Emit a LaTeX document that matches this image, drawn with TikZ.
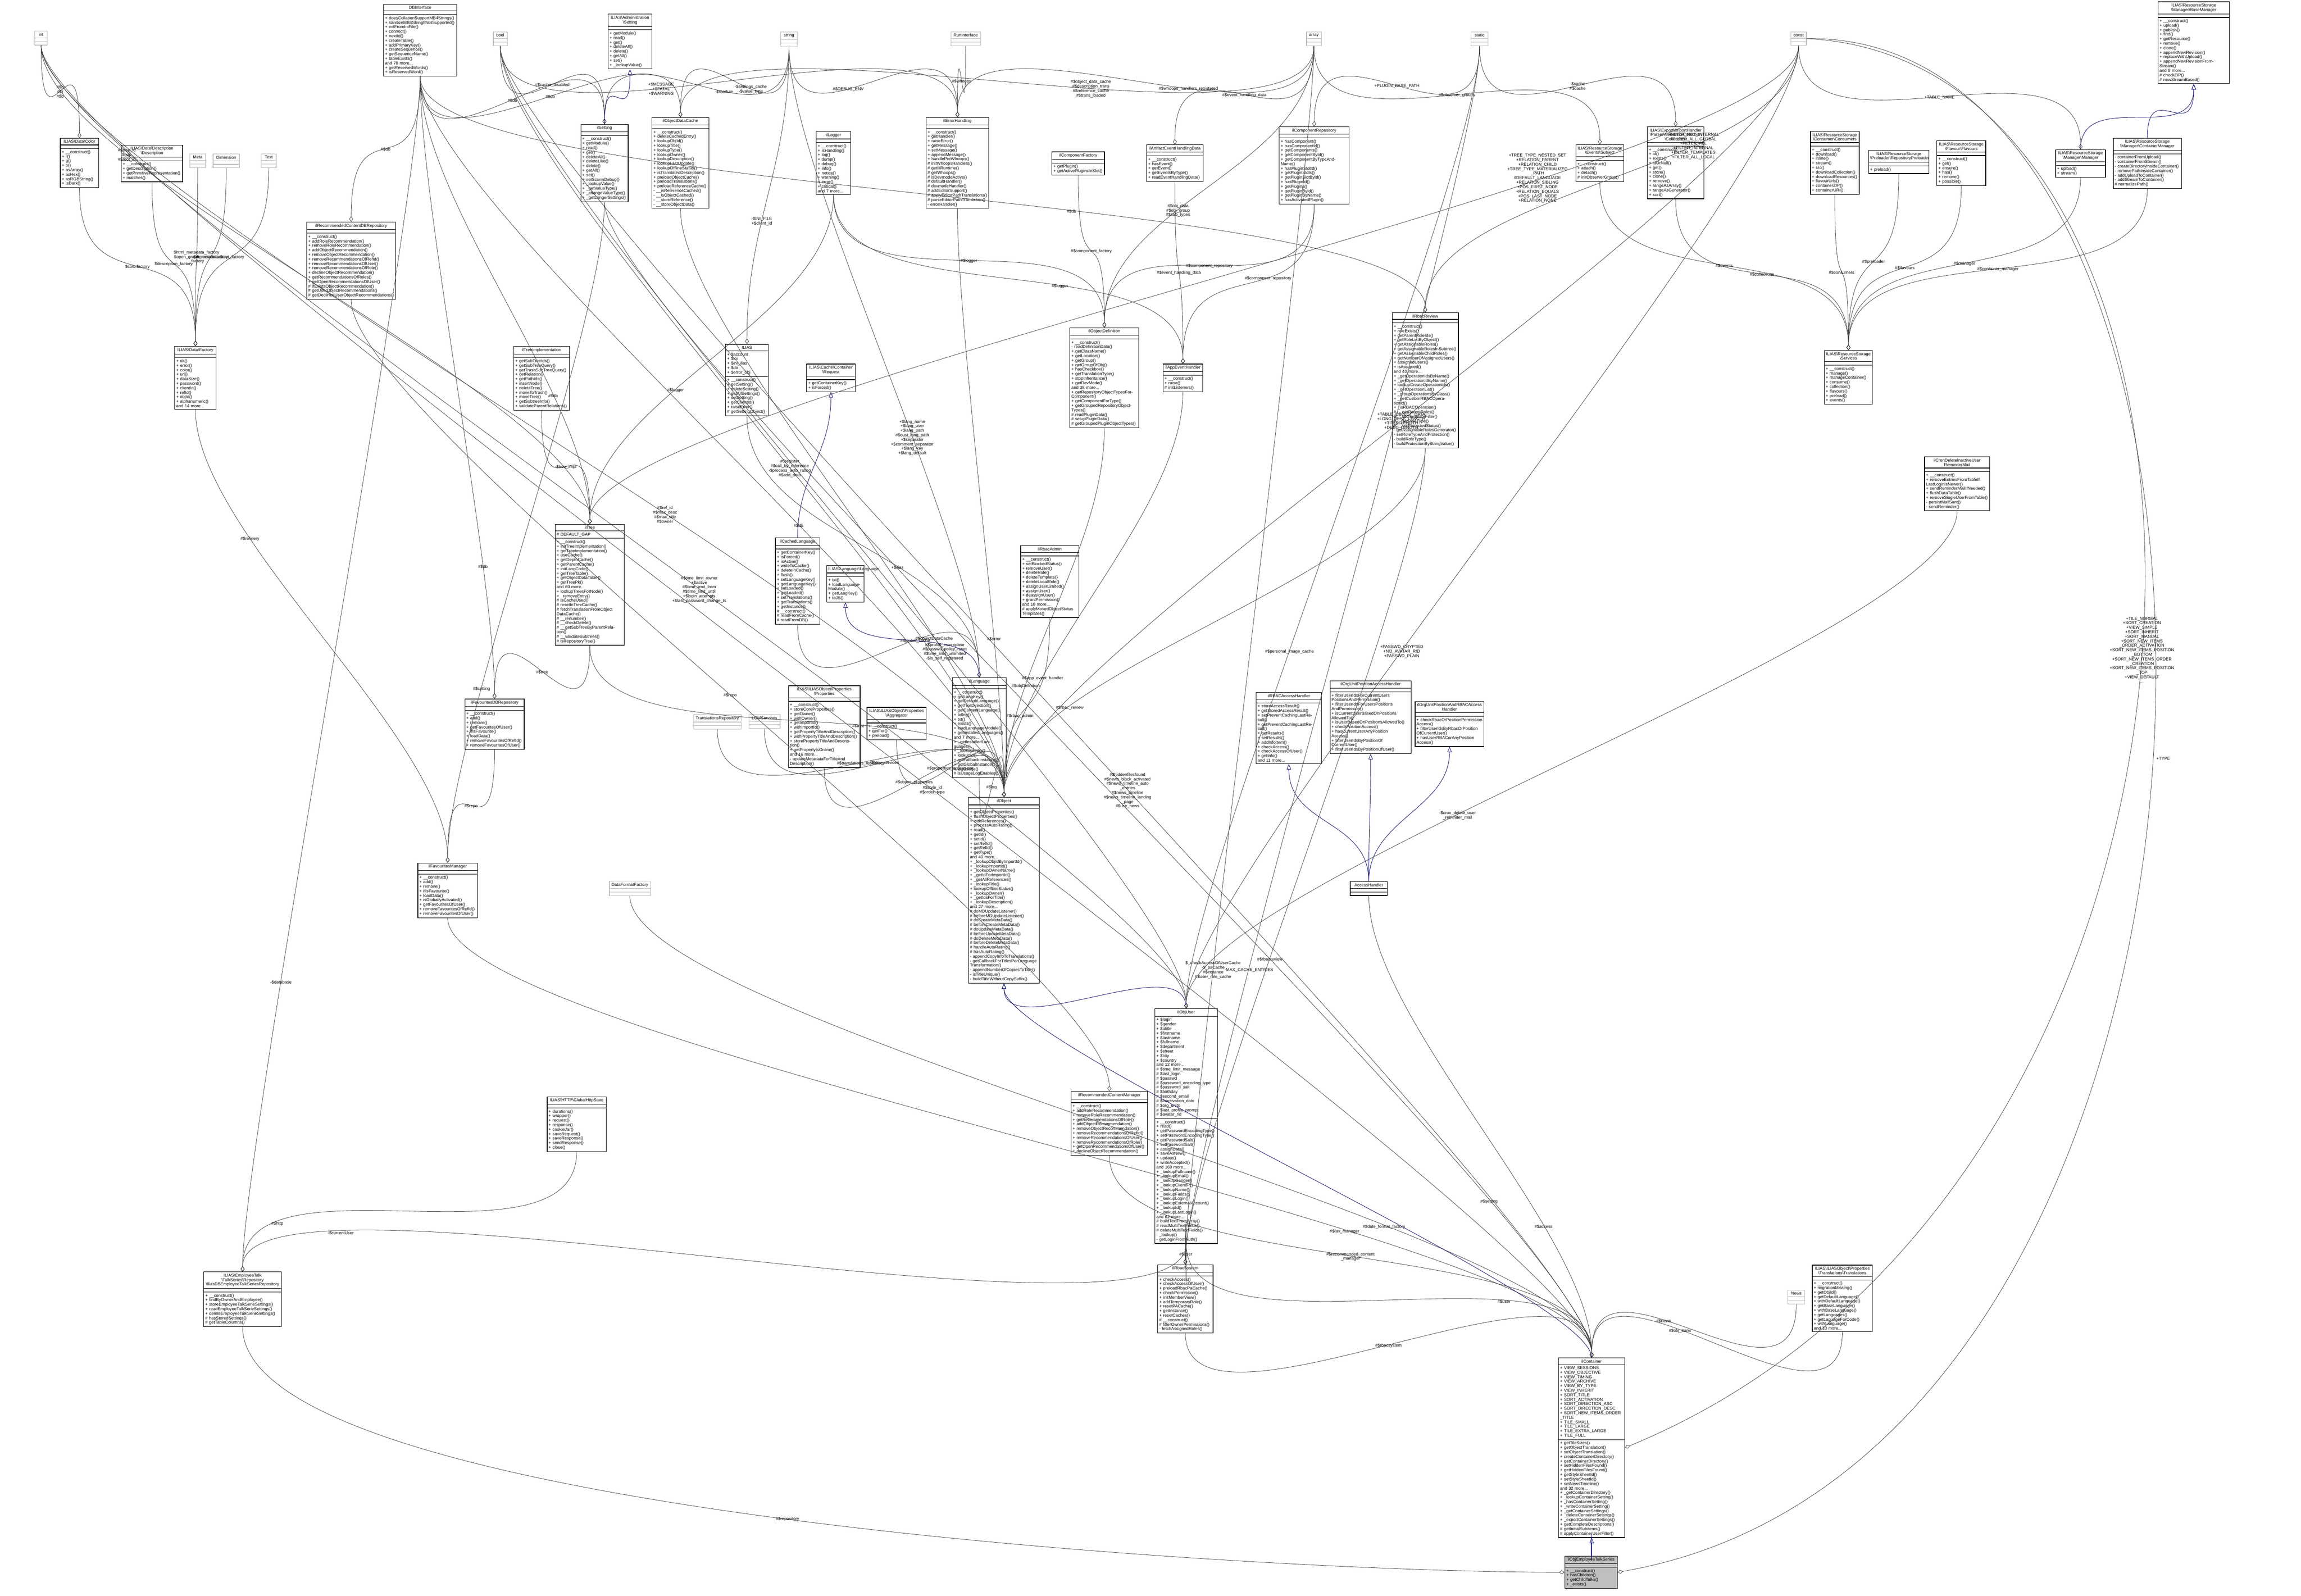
\documentclass[tikz,border=0pt]{standalone}
\usepackage{fontspec}
\setmainfont{Liberation Sans}
\usetikzlibrary{shapes.multipart,arrows.meta}

\definecolor{edgegray}{HTML}{404040}
\definecolor{inhblue}{HTML}{191970}
\definecolor{hlgray}{HTML}{BFBFBF}
\definecolor{primgray}{HTML}{BBBBBB}

\newcommand{\umlfont}{\fontsize{3.9}{4.15}\selectfont}
\newcommand{\bsl}{\textbackslash{}}

\tikzset{
  classbox/.style={draw=black, fill=white, rectangle split, rectangle split parts=3,
    rectangle split empty part height=4pt, anchor=north west, inner sep=1.4pt,
    font=\umlfont, align=left, line width=0.5pt},
  primbox/.style={classbox, draw=primgray},
  member/.style={draw=edgegray, line width=0.35pt, -{Diamond[open,length=5pt,width=3.5pt]}},
  inherit/.style={draw=inhblue, line width=0.4pt, -{Triangle[open,length=5pt,width=4pt]}},
  lbl/.style={font=\umlfont, align=center}
}

% class box: name, x, y, width (px of the reference), title, attributes, methods
\newcommand{\classnode}[8][]{%
  \pgfmathsetmacro{\tw}{#5*0.01-0.1}%
  \node[classbox, text width=\tw cm, #1] (#2) at (#3*0.01,-#4*0.01)
    {\parbox{\tw cm}{\centering #6}\nodepart{two}#7\nodepart{three}#8};}
% empty type box
\newcommand{\primnode}[5]{%
  \pgfmathsetmacro{\tw}{#4*0.01-0.1}%
  \node[primbox, text width=\tw cm] (#1) at (#2*0.01,-#3*0.01)
    {\parbox{\tw cm}{\centering #5}\nodepart{two}\nodepart{three}};}
% member link: [label pos] source, owner, label
\newcommand{\memb}[4][0.5]{%
  \draw[member] (#2.south) .. controls +(0,-4) and +(0,4) .. node[lbl, pos=#1]{#4} (#3.north);}
% inheritance: parent, child (triangle at the parent)
\newcommand{\inh}[2]{%
  \draw[inherit] (#2.north) .. controls +(0,2) and +(0,-2) .. (#1.south);}

\begin{document}
\begin{tikzpicture}
  \useasboundingbox[fill=white] (0,0) rectangle (74.35,-51.56);

  % types
  \primnode{int}{112}{100}{40}{int}
  \primnode{bool}{1594}{102}{45}{bool}
  \primnode{string}{2523}{102}{54}{string}
  \primnode{runif}{3074}{102}{95}{RunInterface}
  \primnode{array}{4223}{102}{48}{array}
  \primnode{static}{4755}{102}{55}{static}
  \primnode{const}{5789}{102}{50}{const}
  \primnode{meta}{613}{497}{51}{Meta}
  \primnode{dimension}{688}{497}{85}{Dimension}
  \primnode{text}{844}{497}{48}{Text}
  \primnode{trrepo}{2242}{2309}{153}{TranslationsRepository}
  \primnode{lom}{2420}{2309}{101}{LOMServices}
  \primnode{dff}{1969}{2848}{133}{DataFormatFactory}
  \primnode{news}{5779}{4170}{55}{News}

  % top row
  \classnode{dbi}{1239}{13}{237}{DBInterface}{}{+ doesCollationSupportMB4Strings()\\+ sanitizeMB4StringIfNotSupported()\\+ initFromIniFile()\\+ connect()\\+ nextId()\\+ createTable()\\+ addPrimaryKey()\\+ createSequence()\\+ getSequenceName()\\+ tableExists()\\and 78 more...\\+ getReservedWords()\\+ isReservedWord()}
  \classnode{admsetting}{1965}{45}{142}{ILIAS\bsl Administration\\\bsl Setting}{}{+ getModule()\\+ read()\\+ get()\\+ deleteAll()\\+ delete()\\+ getAll()\\+ set()\\+ \_lookupValue()}
  \classnode{basemanager}{6976}{5}{231}{ILIAS\bsl ResourceStorage\\\bsl Manager\bsl BaseManager}{}{+ \_\_construct()\\+ upload()\\+ publish()\\+ find()\\+ getResource()\\+ remove()\\+ clone()\\+ appendNewRevision()\\+ replaceWithUpload()\\+ appendNewRevisionFromStream()\\and 8 more...\\\# checkZIP()\\\# newStreamBased()}
  \classnode{color}{194}{446}{124}{ILIAS\bsl Data\bsl Color}{}{+ \_\_construct()\\+ r()\\+ g()\\+ b()\\+ asArray()\\+ asHex()\\+ asRGBString()\\+ isDark()}
  \classnode{datadesc}{391}{468}{199}{ILIAS\bsl Data\bsl Description\\\bsl Description}{}{+ \_\_construct()\\+ getDescription()\\+ getPrimitiveRepresentation()\\+ matches()}
  \classnode{ilsetting}{1877}{401}{153}{ilSetting}{}{+ \_\_construct()\\+ getModule()\\+ read()\\+ get()\\+ deleteAll()\\+ deleteLike()\\+ delete()\\+ getAll()\\+ set()\\+ setScormDebug()\\+ \_lookupValue()\\+ \_getValueType()\\+ \_changeValueType()\\+ \_getLongerSettings()}
  \classnode{objcache}{2107}{379}{184}{ilObjectDataCache}{}{+ \_\_construct()\\+ deleteCachedEntry()\\+ lookupObjId()\\+ lookupTitle()\\+ lookupType()\\+ lookupOwner()\\+ lookupDescription()\\+ lookupLastUpdate()\\+ lookupOfflineStatus()\\+ isTranslatedDescription()\\+ preloadObjectCache()\\+ preloadTranslations()\\+ preloadReferenceCache()\\- \_\_isReferenceCached()\\- \_\_isObjectCached()\\- \_\_storeReference()\\- \_\_storeObjectData()}
  \classnode{logger}{2638}{424}{112}{ilLogger}{}{+ \_\_construct()\\+ isHandling()\\+ log()\\+ dump()\\+ debug()\\+ info()\\+ notice()\\+ warning()\\+ error()\\+ critical()\\and 7 more...}
  \classnode{errhandling}{2993}{379}{203}{ilErrorHandling}{}{+ \_\_construct()\\+ getHandler()\\+ raiseError()\\+ getMessage()\\+ setMessage()\\+ appendMessage()\\+ handlePreWhoops()\\\# initWhoopsHandlers()\\\# getIliRuntime()\\\# getWhoops()\\\# isDevmodeActive()\\\# defaultHandler()\\\# devmodeHandler()\\\# addEditorSupport()\\\# applyEditorPathTranslations()\\\# parseEditorPathTranslation()\\- errorHandler()}
  \classnode{compfactory}{3400}{490}{170}{ilComponentFactory}{}{+ getPlugin()\\+ getActivePluginsInSlot()}
  \classnode{artevent}{3706}{467}{183}{ilArtifactEventHandlingData}{}{+ \_\_construct()\\+ hasEvent()\\+ getEvent()\\+ getEventsByType()\\+ readEventHandlingData()}
  \classnode{comprepo}{4135}{409}{226}{ilComponentRepository}{}{+ hasComponent()\\+ hasComponentId()\\+ getComponents()\\+ getComponentById()\\+ getComponentByTypeAndName()\\+ hasPluginSlotId()\\+ getPluginSlots()\\+ getPluginSlotById()\\+ hasPluginId()\\+ getPlugins()\\+ getPluginById()\\+ getPluginByName()\\+ hasActivatedPlugin()}
  \classnode{evsubject}{5094}{467}{155}{ILIAS\bsl ResourceStorage\\\bsl Events\bsl Subject}{}{+ \_\_construct()\\+ attach()\\+ detach()\\\# initObserverGroup()}
  \classnode{collection}{5325}{409}{183}{ILIAS\bsl Export\bsl ImportHandler\\\bsl Parser\bsl NodeInfo\bsl Collection\\\bsl Collections}{}{+ \_\_construct()\\+ id()\\+ exists()\\+ idOrNull()\\+ get()\\+ store()\\+ clone()\\+ remove()\\+ rangeAsArray()\\+ rangeAsGenerator()\\+ sort()}
  \classnode{consumers}{5852}{424}{158}{ILIAS\bsl ResourceStorage\\\bsl Consumer\bsl Consumers}{}{+ \_\_construct()\\+ download()\\+ inline()\\+ stream()\\+ src()\\+ downloadCollection()\\+ downloadResources()\\+ flavourUrls()\\+ containerZIP()\\+ containerURI()}
  \classnode{preloader}{6040}{485}{196}{ILIAS\bsl ResourceStorage\\\bsl Preloader\bsl RepositoryPreloader}{}{+ preload()}
  \classnode{flavours}{6261}{454}{158}{ILIAS\bsl ResourceStorage\\\bsl Flavour\bsl Flavours}{}{+ \_\_construct()\\+ get()\\+ ensure()\\+ has()\\+ remove()\\+ possible()}
  \classnode{manager}{6645}{483}{161}{ILIAS\bsl ResourceStorage\\\bsl Manager\bsl Manager}{}{+ upload()\\+ stream()}
  \classnode{contmanager}{6831}{446}{221}{ILIAS\bsl ResourceStorage\\\bsl Manager\bsl ContainerManager}{}{- containerFromUpload()\\- containerFromStream()\\- createDirectoryInsideContainer()\\- removePathInsideContainer()\\- addUploadToContainer()\\- addStreamToContainer()\\\# normalizePath()}

  % second row
  \classnode{recdbrepo}{991}{717}{287}{ilRecommendedContentDBRepository}{}{+ \_\_construct()\\+ addRoleRecommendation()\\+ removeRoleRecommendation()\\+ addObjectRecommendation()\\+ removeObjectRecommendation()\\+ removeRecommendationsOfRefId()\\+ removeRecommendationsOfUser()\\+ removeRecommendationsOfRole()\\+ declineObjectRecommendation()\\+ getRecommendationsOfRoles()\\+ getOpenRecommendationsOfUser()\\\# ifExistsObjectRecommendation()\\\# getUserObjectRecommendations()\\\# getDeclinedUserObjectRecommendations()}
  \classnode{datafactory}{564}{1119}{134}{ILIAS\bsl Data\bsl Factory}{}{+ ok()\\+ error()\\+ color()\\+ uri()\\+ dataSize()\\+ password()\\+ clientId()\\+ refId()\\+ objId()\\+ alphanumeric()\\and 14 more...}
  \classnode{treeimpl}{1660}{1119}{180}{ilTreeImplementation}{}{+ getSubTreeIds()\\+ getSubTreeQuery()\\+ getTrashSubTreeQuery()\\+ getRelation()\\+ getPathIds()\\+ insertNode()\\+ deleteTree()\\+ moveToTrash()\\+ moveTree()\\+ getSubtreeInfo()\\+ validateParentRelations()}
  \classnode{ilias}{2345}{1112}{138}{ILIAS}{+ \$account\\+ \$ini\\+ \$ini\_ilias\\+ \$db\\+ \$error\_obj}{+ \_\_construct()\\+ getSetting()\\+ deleteSetting()\\+ getAllSettings()\\+ setSetting()\\+ getClientId()\\+ raiseError()\\\# getSettingObject()}
  \classnode{cachereq}{2607}{1176}{157}{ILIAS\bsl Cache\bsl Container\\\bsl Request}{}{+ getContainerKey()\\+ isForced()}
  \classnode{objdef}{3458}{1059}{223}{ilObjectDefinition}{}{+ \_\_construct()\\- readDefinitionData()\\+ getClassName()\\+ getLocation()\\+ getGroup()\\+ getGroupOfObj()\\+ hasCheckbox()\\+ getTranslationType()\\+ stopInheritance()\\+ getDevMode()\\and 38 more...\\+ getRepositoryObjectTypesForComponent()\\+ getComponentForType()\\+ getGroupedRepositoryObjectTypes()\\\# readPluginData()\\\# setupPluginData()\\\# getGroupedPluginObjectTypes()}
  \classnode{appevent}{3759}{1176}{129}{ilAppEventHandler}{}{+ \_\_construct()\\+ raise()\\\# initListeners()}
  \classnode{rbacreview}{4500}{1010}{214}{ilRbacReview}{}{+ \_\_construct()\\+ roleExists()\\+ getParentRoleIds()\\+ getRoleListByObject()\\+ getAssignableRoles()\\+ getAssignableRolesInSubtree()\\+ getAssignableChildRoles()\\+ getNumberOfAssignedUsers()\\+ assignedUsers()\\+ isAssigned()\\and 43 more...\\+ \_getOperationIdsByName()\\+ \_getOperationIdByName()\\+ lookupCreateOperationIds()\\+ \_getOperationList()\\+ \_groupOperationsByClass()\\+ \_getCustomRBACOperationId()\\+ \_isRBACOperation()\\\# \_\_getParentRoles()\\\# \_\_setTemplateFilter()\\\# \_\_setRoleType()\\\# \_\_setProtectedStatus()\\- getAssignableRolesGenerator()\\- setRoleTypeAndProtection()\\- buildRoleType()\\- buildProtectionByStringValue()}
  \classnode{services}{5897}{1132}{156}{ILIAS\bsl ResourceStorage\\\bsl Services}{}{+ \_\_construct()\\+ manage()\\+ manageContainer()\\+ consume()\\+ collection()\\+ flavours()\\+ preload()\\+ events()}
  \classnode{cronmail}{6221}{1476}{211}{ilCronDeleteInactiveUser\\ReminderMail}{}{+ \_\_construct()\\+ removeEntriesFromTableIf\\LastLoginIsNewer()\\+ sendReminderMailIfNeeded()\\+ flushDataTable()\\+ removeSingleUserFromTable()\\- persistMailSent()\\- sendReminder()}

  % middle
  \classnode{tree}{1794}{1694}{224}{ilTree}{\# DEFAULT\_GAP}{+ \_\_construct()\\+ initTreeImplementation()\\+ getTreeImplementation()\\+ useCache()\\+ getDepthCache()\\+ getParentCache()\\+ initLangCode()\\+ getTreeTable()\\+ getObjectDataTable()\\+ getTreePk()\\and 60 more...\\+ lookupTreesForNode()\\+ \_removeEntry()\\\# isCacheUsed()\\\# resetInTreeCache()\\\# fetchTranslationFromObject\\DataCache()\\\# \_\_renumber()\\\# \_\_checkDelete()\\\# \_\_getSubTreeByParentRelation()\\\# \_\_validateSubtrees()\\\# isRepositoryTree()}
  \classnode{cachedlang}{2506}{1738}{144}{ilCachedLanguage}{}{+ getContainerKey()\\+ isForced()\\+ isActive()\\+ writeToCache()\\+ deleteInCache()\\+ flush()\\+ setLanguageKey()\\+ getLanguageKey()\\+ setLoaded()\\+ getLoaded()\\+ setTranslations()\\+ getTranslations()\\+ getInstance()\\\# \_\_construct()\\\# readFromCache()\\\# readFromDB()}
  \classnode{langlang}{2672}{1827}{121}{ILIAS\bsl Language\bsl Language}{}{+ txt()\\+ loadLanguageModule()\\+ getLangKey()\\+ toJS()}
  \classnode{rbacadmin}{3299}{1763}{188}{ilRbacAdmin}{}{+ \_\_construct()\\+ setBlockedStatus()\\+ removeUser()\\+ deleteRole()\\+ deleteTemplate()\\+ deleteLocalRole()\\+ assignUserLimited()\\+ assignUser()\\+ deassignUser()\\+ grantPermission()\\and 18 more...\\\# applyMovedObjectStatus\\Templates()}
  \classnode{lang}{3078}{2190}{174}{ilLanguage}{}{+ \_\_construct()\\+ getLangKey()\\+ getDefaultLanguage()\\+ getTextDirection()\\+ getContentLanguage()\\+ txtlng()\\+ txt()\\+ exists()\\+ loadLanguageModule()\\+ getInstalledLanguages()\\and 7 more...\\+ \_getInstalledLanguages()\\+ \_lookupEntry()\\+ lookupId()\\+ getFallbackInstance()\\+ getGlobalInstance()\\\# logUsage()\\\# isUsageLogEnabled()}
  \classnode{favdbrepo}{1502}{2259}{192}{ilFavouritesDBRepository}{}{+ \_\_construct()\\+ add()\\+ remove()\\+ getFavouritesOfUser()\\+ ifIsFavourite()\\+ loadData()\\+ removeFavouritesOfRefId()\\+ removeFavouritesOfUser()}
  \classnode{props}{2548}{2216}{232}{ILIAS\bsl ILIASObject\bsl Properties\\\bsl Properties}{}{+ \_\_construct()\\+ storeCoreProperties()\\+ getOwner()\\+ withOwner()\\+ getImportId()\\+ withImportId()\\+ getPropertyTitleAndDescription()\\+ withPropertyTitleAndDescription()\\+ storePropertyTitleAndDescription()\\+ getPropertyIsOnline()\\and 16 more...\\- updateMetadataForTitleAnd\\Description()}
  \classnode{aggregator}{2802}{2286}{192}{ILIAS\bsl ILIASObject\bsl Properties\\\bsl Aggregator}{}{+ \_\_construct()\\+ getFor()\\+ preload()}
  \classnode{rbacaccess}{4060}{2238}{212}{ilRBACAccessHandler}{}{+ storeAccessResult()\\+ getStoredAccessResult()\\+ setPreventCachingLastResult()\\+ getPreventCachingLastResult()\\+ getResults()\\+ setResults()\\+ addInfoItem()\\+ checkAccess()\\+ checkAccessOfUser()\\+ getInfo()\\and 11 more...}
  \classnode{orgpos}{4299}{2200}{263}{ilOrgUnitPositionAccessHandler}{}{+ filterUserIdsForCurrentUsers\\PositionsAndPermission()\\+ filterUserIdsForUsersPositions\\AndPermission()\\+ isCurrentUserBasedOnPositions\\AllowedTo()\\+ isUserBasedOnPositionsAllowedTo()\\+ checkPositionAccess()\\+ hasCurrentUserAnyPosition\\Access()\\+ filterUserIdsByPositionOf\\CurrentUser()\\+ filterUserIdsByPositionOfUser()}
  \classnode{orgposrbac}{4574}{2267}{223}{ilOrgUnitPositionAndRBACAccess\\Handler}{}{+ checkRbacOrPositionPermission\\Access()\\+ filterUserIdsByRbacOrPosition\\OfCurrentUser()\\+ hasUserRBACorAnyPosition\\Access()}
  \classnode{obj}{3130}{2577}{230}{ilObject}{}{+ getObjectProperties()\\+ flushObjectProperties()\\+ withReferences()\\+ processAutoRating()\\+ read()\\+ getId()\\+ setId()\\+ setRefId()\\+ getRefId()\\+ getType()\\and 40 more...\\+ \_lookupObjIdByImportId()\\+ \_lookupImportId()\\+ \_lookupOwnerName()\\+ \_getIdForImportId()\\+ \_getAllReferences()\\+ \_lookupTitle()\\+ lookupOfflineStatus()\\+ \_lookupOwner()\\+ \_getIdsForTitle()\\+ \_lookupDescription()\\and 27 more...\\\# doMDUpdateListener()\\\# beforeMDUpdateListener()\\\# doCreateMetaData()\\\# beforeCreateMetaData()\\\# doUpdateMetaData()\\\# beforeUpdateMetaData()\\\# doDeleteMetaData()\\\# beforeDeleteMetaData()\\\# handleAutoRating()\\\# hasAutoRating()\\- appendCopyInfoToTranslations()\\- getCallbackForTitlesPerLanguage\\Transformation()\\- appendNumberOfCopiesToTitle()\\- isTitleUnique()\\- buildTitleWithoutCopySuffix()}
  \node[classbox, text width=1.1cm] (access) at (43.62,-28.48)
    {\parbox{1.1cm}{\centering AccessHandler}\nodepart{two}\nodepart{three}};
  \classnode{favmanager}{1350}{2789}{193}{ilFavouritesManager}{}{+ \_\_construct()\\+ add()\\+ remove()\\+ ifIsFavourite()\\+ loadData()\\+ isGloballyActivated()\\+ getFavouritesOfUser()\\+ removeFavouritesOfRefId()\\+ removeFavouritesOfUser()}
  \classnode{objuser}{3733}{3260}{202}{ilObjUser}{+ \$login\\+ \$gender\\+ \$utitle\\+ \$firstname\\+ \$lastname\\+ \$fullname\\+ \$department\\+ \$street\\+ \$city\\+ \$country\\and 12 more...\\\# \$time\_limit\_message\\\# \$last\_login\\\# \$passwd\\\# \$password\_encoding\_type\\\# \$password\_salt\\\# \$birthday\\\# \$second\_email\\\# \$inactivation\_date\\\# \$org\_units\\\# \$last\_profile\_prompt\\\# \$avatar\_rid}{+ \_\_construct()\\+ read()\\+ getPasswordEncodingType()\\+ setPasswordEncodingType()\\+ getPasswordSalt()\\+ setPasswordSalt()\\+ assignData()\\+ saveAsNew()\\+ update()\\+ writeAccepted()\\and 169 more...\\+ \_lookupFullname()\\+ \_lookupEmail()\\+ \_lookupGender()\\+ \_lookupClientIP()\\+ \_lookupName()\\+ \_lookupFields()\\+ \_lookupLogin()\\+ \_lookupExternalAccount()\\+ \_lookupId()\\+ \_lookupLastLogin()\\and 62 more...\\\# buildTextFromArray()\\\# readMultiTextFields()\\\# deleteMultiTextFields()\\- \_lookup()\\- getLoginFromAuth()}
  \classnode{recmanager}{3462}{3528}{247}{ilRecommendedContentManager}{}{+ \_\_construct()\\+ addRoleRecommendation()\\+ removeRoleRecommendation()\\+ getRecommendationsOfRole()\\+ addObjectRecommendation()\\+ removeObjectRecommendation()\\+ removeRecommendationsOfRefId()\\+ removeRecommendationsOfUser()\\+ removeRecommendationsOfRole()\\+ getOpenRecommendationsOfUser()\\+ declineObjectRecommendation()}
  \classnode{http}{1768}{3545}{191}{ILIAS\bsl HTTP\bsl GlobalHttpState}{}{+ durations()\\+ wrapper()\\+ request()\\+ response()\\+ cookieJar()\\+ saveRequest()\\+ saveResponse()\\+ sendResponse()\\+ close()}
  \classnode{rbacsystem}{3742}{4088}{179}{ilRbacSystem}{}{+ checkAccess()\\+ checkAccessOfUser()\\+ preloadRbacPaCache()\\+ checkPermission()\\+ initMemberView()\\+ addTemporaryRole()\\+ resetPACache()\\+ getInstance()\\+ resetCaches()\\\# \_\_construct()\\\# filterOwnerPermissions()\\- fetchAssignedRoles()}
  \classnode{talkrepo}{658}{4111}{251}{ILIAS\bsl EmployeeTalk\\\bsl TalkSeries\bsl Repository\\\bsl IliasDBEmployeeTalkSeriesRepository}{}{+ \_\_construct()\\+ findByOwnerAndEmployee()\\+ storeEmployeeTalkSerieSettings()\\+ readEmployeeTalkSerieSettings()\\+ deleteEmployeeTalkSerieSettings()\\\# hasStoredSettings()\\\# getTableColumns()}
  \classnode{translations}{5858}{4089}{195}{ILIAS\bsl ILIASObject\bsl Properties\\\bsl Translations\bsl Translations}{}{+ \_\_construct()\\+ migrationMissing()\\+ getObjId()\\+ getDefaultLanguage()\\+ withDefaultLanguage()\\+ getBaseLanguage()\\+ withBaseLanguage()\\+ getLanguages()\\+ getLaguageForCode()\\+ withLanguage()\\and 10 more...}
  \classnode{container}{5038}{4389}{214}{ilContainer}{+ VIEW\_SESSIONS\\+ VIEW\_OBJECTIVE\\+ VIEW\_TIMING\\+ VIEW\_ARCHIVE\\+ VIEW\_BY\_TYPE\\+ VIEW\_INHERIT\\+ SORT\_TITLE\\+ SORT\_ACTIVATION\\+ SORT\_DIRECTION\_ASC\\+ SORT\_DIRECTION\_DESC\\+ SORT\_NEW\_ITEMS\_ORDER\\\_TITLE\\+ TILE\_SMALL\\+ TILE\_LARGE\\+ TILE\_EXTRA\_LARGE\\+ TILE\_FULL}{+ getTileSizes()\\+ getObjectTranslation()\\+ setObjectTranslation()\\+ createContainerDirectory()\\+ getContainerDirectory()\\+ setHiddenFilesFound()\\+ getHiddenFilesFound()\\+ getStyleSheetId()\\+ setStyleSheetId()\\+ setNewsTimeline()\\and 32 more...\\+ \_getContainerDirectory()\\+ \_lookupContainerSetting()\\+ \_hasContainerSetting()\\+ \_writeContainerSetting()\\+ \_getContainerSettings()\\+ \_deleteContainerSettings()\\+ \_exportContainerSettings()\\+ getCompleteDescriptions()\\\# getInitialSubitems()\\\# applyContainerUserFilter()}
  \classnode[fill=hlgray]{talkseries}{5058}{5030}{170}{ilObjEmployeeTalkSeries}{}{+ \_\_construct()\\+ hasChildren()\\+ getChildTalks()\\+ \_exists()}

  % members
  \memb{int}{color}{\#\$g\\\#\$r\\\#\$b}
  \memb[0.25]{int}{tree}{\#\$tree\_id\\\$gap\\\#\$root\_id}
  \memb[0.55]{int}{container}{\#\$style\_id\\\#\$order\_type}
  \memb[0.6]{int}{obj}{\#\$ref\_id\\\#\$max\_desc\\\#\$max\_title\\\#\$owner}
  \memb[0.55]{int}{objuser}{\#\$time\_limit\_owner\\+\$active\\\#\$time\_limit\_from\\\#\$time\_limit\_until\\+\$login\_attempts\\+\$last\_password\_change\_ts}
  \memb{dbi}{ilsetting}{\#\$db}
  \memb{dbi}{objcache}{\#\$db}
  \memb{dbi}{recdbrepo}{\#\$db}
  \memb[0.7]{dbi}{tree}{\#\$db}
  \memb[0.75]{dbi}{favdbrepo}{\#\$db}
  \memb[0.7]{dbi}{talkrepo}{-\$database}
  \memb[0.6]{dbi}{obj}{\#\$db}
  \memb[0.6]{dbi}{rbacreview}{\#\$db}
  \memb[0.4]{bool}{errhandling}{+\$MESSAGE\\+\$FATAL\\+\$WARNING}
  \memb{bool}{ilsetting}{\#\$cache\_disabled}
  \memb[0.6]{bool}{objuser}{\#\$profile\_incomplete\\\#\$passwd\_policy\_reset\\\#\$time\_limit\_unlimited\\-\$is\_self\_registered}
  \memb[0.55]{bool}{container}{\#\$hiddenfilesfound\\\#\$news\_block\_activated\\\#\$news\_timeline\_auto\\\_entries\\\#\$news\_timeline\\\#\$news\_timeline\_landing\\\_page\\\#\$use\_news}
  \memb[0.55]{bool}{obj}{\#\$register\\\#\$call\_by\_reference\\-\$process\_auto\_rating\\\#\$add\_dots}
  \memb[0.4]{string}{ilsetting}{-\$module}
  \memb[0.4]{string}{objcache}{-\$settings\_cache\\-\$value\_type}
  \memb[0.4]{string}{errhandling}{\#\$DEBUG\_ENV}
  \memb[0.6]{string}{ilias}{-\$INI\_FILE\\+\$client\_id}
  \memb[0.6]{string}{lang}{+\$lang\_name\\+\$lang\_user\\+\$lang\_path\\\#\$cust\_lang\_path\\+\$separator\\+\$comment\_separator\\+\$lang\_key\\+\$lang\_default}
  \memb{runif}{errhandling}{\#\$whoops}
  \memb[0.4]{array}{objcache}{\#\$object\_data\_cache\\\#\$description\_trans\\\#\$reference\_cache\\\#\$trans\_loaded}
  \memb[0.4]{array}{errhandling}{\#\$whoops\_handlers\_registered}
  \memb[0.6]{array}{objdef}{\#\$obj\_data\\\#\$obj\_group\\\#\$sub\_types}
  \memb{array}{artevent}{\#\$event\_handling\_data}
  \memb{array}{evsubject}{\#\$observer\_groups}
  \memb[0.7]{array}{rbacsystem}{\$\_checkAccessOfUserCache\\-\$\_paCache\\\#\$instance\\\#\$user\_role\_cache}
  \memb{static}{comprepo}{+PLUGIN\_BASE\_PATH}
  \memb{static}{collection}{-\$cache\\\#\$cache}
  \memb[0.7]{static}{rbacsystem}{-MAX\_CACHE\_ENTRIES}
  \memb[0.6]{static}{objuser}{\#\$personal\_image\_cache}
  \memb[0.35]{const}{rbacreview}{+FILTER\_NOT\_INTERNAL\\+FILTER\_ALL\_GLOBAL\\+FILTER\_ALL\\+FILTER\_INTERNAL\\+FILTER\_TEMPLATES\\+FILTER\_ALL\_LOCAL}
  \memb{const}{manager}{+TABLE\_NAME}
  \memb[0.3]{const}{tree}{+TREE\_TYPE\_NESTED\_SET\\+RELATION\_PARENT\\+RELATION\_CHILD\\+TREE\_TYPE\_MATERIALIZED\\\_PATH\\\#DEFAULT\_LANGUAGE\\+RELATION\_SIBLING\\+POS\_FIRST\_NODE\\+RELATION\_EQUALS\\+POS\_LAST\_NODE\\+RELATION\_NONE\\...}
  \memb{const}{obj}{+TABLE\_OBJECT\_DATA\\+LONG\_DESC\_LENGTH\\+TITLE\_LENGTH\\+DESC\_LENGTH}
  \memb[0.6]{const}{objuser}{+PASSWD\_CRYPTED\\+NO\_AVATAR\_RID\\+PASSWD\_PLAIN}
  \draw[member] (const.east) .. controls (73.8,-2) and (73.8,-38) .. node[lbl, pos=0.5]{+TILE\_NORMAL\\+SORT\_CREATION\\+VIEW\_SIMPLE\\+SORT\_INHERIT\\+SORT\_MANUAL\\+SORT\_NEW\_ITEMS\\\_ORDER\_ACTIVATION\\+SORT\_NEW\_ITEMS\_POSITION\\\_BOTTOM\\+SORT\_NEW\_ITEMS\_ORDER\\\_CREATION\\+SORT\_NEW\_ITEMS\_POSITION\\\_TOP\\+VIEW\_DEFAULT\\...} (container.east);
  \draw[member] (const.east) .. controls (74.3,-1) and (74.3,-47) .. node[lbl, pos=0.5, right]{+TYPE} (talkseries.east);
  \memb{logger}{objdef}{\#\$logger}
  \memb[0.6]{logger}{tree}{\#\$logger}
  \memb[0.6]{logger}{appevent}{\#\$logger}
  \memb{compfactory}{objdef}{\#\$component\_factory}
  \memb{comprepo}{objdef}{\#\$component\_repository}
  \memb[0.4]{comprepo}{appevent}{\#\$component\_repository}
  \memb{artevent}{appevent}{\#\$event\_handling\_data}
  \memb{evsubject}{services}{\#\$events}
  \memb{collection}{services}{\#\$collections}
  \memb{consumers}{services}{\#\$consumers}
  \memb{preloader}{services}{\#\$preloader}
  \memb{flavours}{services}{\#\$flavours}
  \memb{manager}{services}{\#\$manager}
  \memb{contmanager}{services}{\#\$container\_manager}
  \memb{color}{datafactory}{\$colorfactory}
  \memb{datadesc}{datafactory}{\$description\_factory}
  \memb{meta}{datafactory}{\$html\_metadata\_factory\\\$open\_graph\_metadata\\\_factory}
  \memb{dimension}{datafactory}{\$dimensionfactory}
  \memb{text}{datafactory}{\$text\_factory}
  \memb[0.3]{datafactory}{favmanager}{\#\$refinery}
  \memb{recdbrepo}{recmanager}{\#\$repo}
  \memb{treeimpl}{tree}{-\$tree\_impl}
  \memb[0.6]{ilias}{lang}{+\$ilias}
  \memb[0.6]{cachedlang}{lang}{\#\$global\_cache}
  \memb{tree}{favdbrepo}{\#\$tree}
  \memb{favdbrepo}{favmanager}{\#\$repo}
  \memb[0.7]{ilsetting}{favmanager}{\#\$setting}
  \memb[0.7]{objcache}{obj}{\#\$objectDataCache}
  \memb[0.7]{objdef}{obj}{\#\$objDefinition}
  \memb[0.6]{tree}{obj}{\#\$tree}
  \memb{trrepo}{obj}{\#\$translations\_repository}
  \memb{lom}{obj}{\#\$lom\_services}
  \memb{props}{obj}{\#\$object\_properties}
  \memb{aggregator}{obj}{\#\$properties\_aggregator}
  \memb[0.7]{appevent}{obj}{\#\$app\_event\_handler}
  \memb[0.6]{rbacadmin}{obj}{\#\$rbac\_admin}
  \memb[0.75]{rbacreview}{obj}{\#\$rbac\_review}
  \memb[0.7]{errhandling}{obj}{\#\$error}
  \memb{lang}{obj}{\#\$lng}
  \memb[0.7]{favmanager}{container}{\#\$fav\_manager}
  \memb[0.7]{dff}{container}{\#\$date\_format\_factory}
  \memb{recmanager}{container}{\#\$recommended\_content\\\_manager}
  \memb[0.7]{objuser}{container}{\#\$user}
  \memb{rbacsystem}{container}{\#\$rbacsystem}
  \memb[0.7]{access}{container}{\#\$access}
  \memb[0.6]{news}{container}{\#\$news}
  \memb[0.6]{translations}{container}{\#\$obj\_trans}
  \memb[0.8]{ilsetting}{container}{\#\$setting}
  \memb{objuser}{rbacsystem}{\#\$user}
  \memb[0.6]{rbacreview}{rbacsystem}{\#\$rbacreview}
  \memb[0.6]{cronmail}{objuser}{-\$cron\_delete\_user\\\_reminder\_mail}
  \memb[0.8]{objuser}{talkrepo}{-\$currentUser}
  \memb[0.8]{http}{talkrepo}{\#\$http}
  \draw[member] (talkrepo.south) .. controls +(0,-6) and +(-10,0) .. node[lbl, pos=0.5]{\#\$repository} (talkseries.west);

  % inheritance
  \inh{admsetting}{ilsetting}
  \inh{basemanager}{manager}
  \inh{basemanager}{contmanager}
  \inh{cachereq}{cachedlang}
  \inh{langlang}{lang}
  \inh{rbacaccess}{access}
  \inh{orgpos}{access}
  \inh{orgposrbac}{access}
  \inh{obj}{objuser}
  \inh{obj}{container}
  \inh{container}{talkseries}
\end{tikzpicture}
\end{document}
